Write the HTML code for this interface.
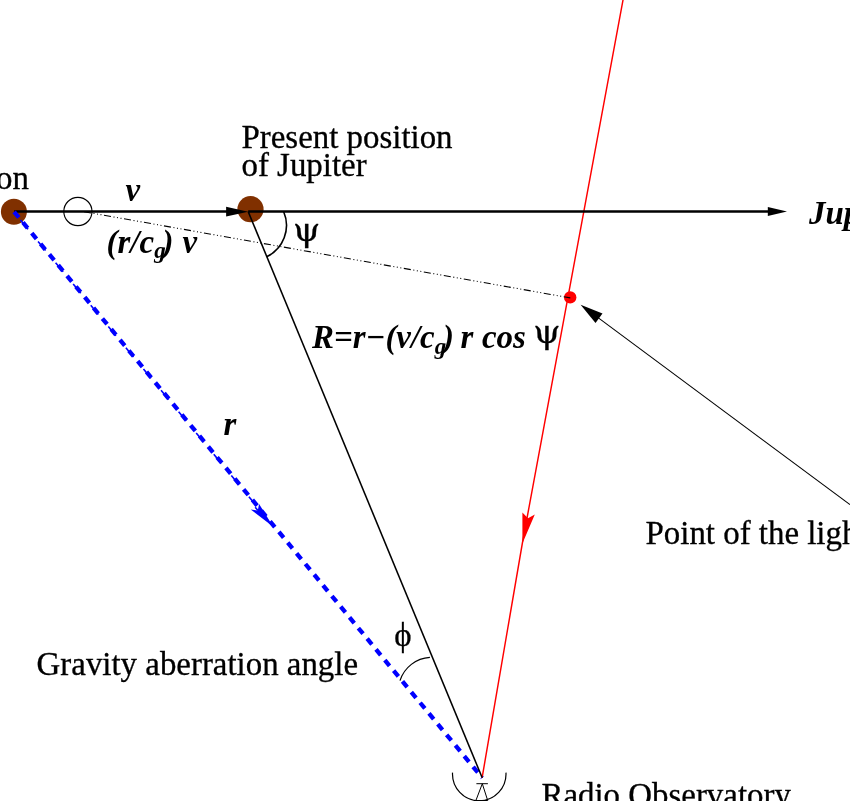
<!DOCTYPE html>
<html>
<head>
<meta charset="utf-8">
<title>Gravity aberration diagram</title>
<style>
html,body{margin:0;padding:0;background:#fff;}
body{width:850px;height:801px;overflow:hidden;position:relative;}
svg{position:absolute;left:0;top:0;display:block;}
text{font-family:"Liberation Serif","DejaVu Serif",serif;font-size:32.9px;fill:#000;stroke:#000;stroke-width:0.3px;}
.bi{font-weight:bold;font-style:italic;stroke:none;}
.psi{font-family:"DejaVu Serif","Liberation Serif",serif;font-size:32.2px;}
</style>
</head>
<body>
<svg width="850" height="801" viewBox="0 0 850 801">
  <rect x="0" y="0" width="850" height="801" fill="#ffffff"/>

  <!-- brown planets -->
  <circle cx="13.9" cy="211.8" r="13" fill="#803000"/>
  <circle cx="250.5" cy="209.2" r="13.1" fill="#803000"/>

  <!-- red light ray (under axis) -->
  <polyline points="623.2,-1 522.4,543 482.1,777.8" fill="none" stroke="#ff0000" stroke-width="1.45"/>

  <!-- open circle -->
  <circle cx="77.9" cy="211.5" r="14.1" fill="none" stroke="#000" stroke-width="1.15"/>

  <!-- horizontal velocity axis -->
  <line x1="14.1" y1="211.55" x2="230" y2="211.55" stroke="#000" stroke-width="2.4"/>
  <polygon points="248.2,211.7 226.1,206.8 226.1,216.6" fill="#000"/>
  <line x1="248.2" y1="211.55" x2="770" y2="211.55" stroke="#000" stroke-width="2.4"/>
  <polygon points="787,211.5 767.8,207 767.8,216" fill="#000"/>


  <!-- blue dashed r line -->
  <line x1="14.1" y1="211.8" x2="482.2" y2="777.8" stroke="#0000ff" stroke-width="4.3" stroke-dasharray="7.4 6.45"/>
  <line x1="13.8" y1="212.05" x2="261.7" y2="512.25" stroke="#0000ff" stroke-width="1.6" stroke-dasharray="11.9 15.7" stroke-dashoffset="17.15"/>
  <polygon points="273.2,526.8 250.7,509.5 257.8,510.4 259.1,503.9" fill="#0000ff"/>
  <line x1="255.2" y1="507.2" x2="258" y2="510.6" stroke="#0000ff" stroke-width="1.6"/>

  <!-- R line -->
  <line x1="248.2" y1="211.6" x2="482.2" y2="777.8" stroke="#000" stroke-width="1.55"/>

  <!-- psi arc -->
  <path d="M283.7 211.8 A34.7 34.7 0 0 1 266.5 256.8" fill="none" stroke="#000" stroke-width="1.6"/>
  <!-- phi arc -->
  <path d="M429.9 657.4 A33.4 33.4 0 0 0 400 680.6" fill="none" stroke="#000" stroke-width="1.2"/>

  <!-- red light ray -->
  <polygon points="522.4,543.5 522.4,512.4 528.0,518.2 534.8,514.6" fill="#ff0000"/>
  <circle cx="570.2" cy="297.4" r="6.2" fill="#ff0000"/>

  <!-- dash-dot line -->
  <line x1="84" y1="211.7" x2="570.3" y2="297.9" stroke="#000" stroke-width="1.1" stroke-dasharray="7.1 2.55 1 2.55 1 2.55 1 2.55"/>

  <!-- pointer arrow -->
  <line x1="850" y1="504.6" x2="595" y2="315.4" stroke="#000" stroke-width="1.05"/>
  <polygon points="580.6,304.7 602.5,313.5 595.5,323" fill="#000"/>

  <!-- observatory -->
  <path d="M452.54 772.6 A26.75 26.75 0 1 0 505.96 772.6" fill="none" stroke="#000" stroke-width="1.2"/>
  <path d="M476.4 783.7 H487.9 M475.9 800.5 L482.3 783.7 L487.7 800.5 Z" fill="none" stroke="#000" stroke-width="1"/>

  <!-- labels -->
  <text x="-4" y="188.5">on</text>
  <text x="241.5" y="148.2">Present position</text>
  <text x="241.5" y="176.2">of Jupiter</text>
  <text x="36.6" y="674.8">Gravity aberration angle</text>
  <text x="645.5" y="543.7">Point of the light</text>
  <text x="541.5" y="806.3">Radio Observatory</text>
  <text class="bi" x="809" y="223.5">Jupiter</text>
  <text class="bi" x="125.5" y="201">v</text>
  <text class="bi" x="223.4" y="434.5">r</text>
  <text class="bi" x="106.5" y="252.5">(r/c<tspan x="154.3" font-size="23" dy="5.5">g</tspan><tspan x="162.5" dy="-5.5">)</tspan><tspan x="182.5">v</tspan></text>
  <text class="bi" x="312" y="348.2">R=r−(v/c<tspan x="434.8" font-size="23" dy="5.5">g</tspan><tspan x="443" dy="-5.5">)</tspan><tspan x="460.5">r</tspan><tspan x="482">cos</tspan></text>
  <text class="psi" transform="translate(533.2 343.2) scale(1.08 1)">ψ</text>
  <text class="psi" transform="translate(292.9 240.7) scale(1.08 1)">ψ</text>
  <text x="394.2" y="646.3">ϕ</text>
</svg>
</body>
</html>
